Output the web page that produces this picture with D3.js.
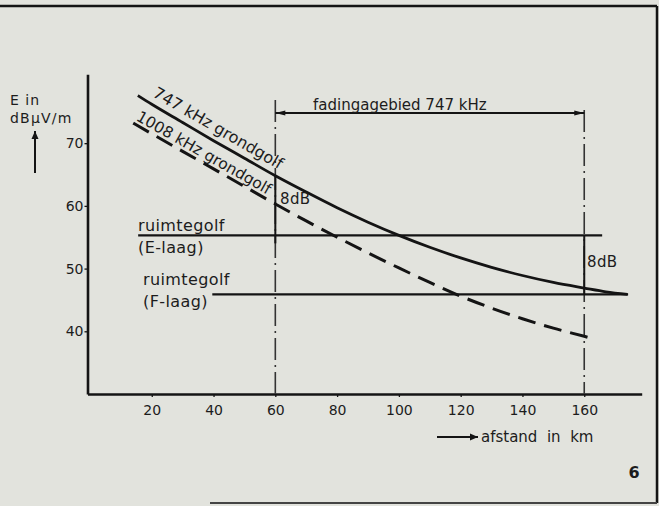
<!DOCTYPE html>
<html>
<head>
<meta charset="utf-8">
<script src="https://cdn.jsdelivr.net/npm/d3@7"></script>
<style>
  html, body { margin: 0; padding: 0; background: #e2e3dd; }
  svg { display: block; }
  text { font-family: "DejaVu Sans", sans-serif; fill: #1c1c1c; }
</style>
</head>
<body>
<svg id="chart" width="659" height="506"></svg>
<script>
// Ground-wave field strength versus distance (km), dB µV/m
const groundKm747   = [15.5, 20, 30, 40, 50, 60, 70, 80, 90, 100, 110, 120, 130, 140, 150, 160, 167, 174];
const ground747     = [77.6, 76.2, 73.3, 70.4, 67.6, 64.8, 62.2, 59.7, 57.4, 55.3, 53.4, 51.7, 50.2, 48.9, 47.8, 46.9, 46.3, 45.9];
const groundKm1008  = [14, 20, 30, 40, 50, 60, 70, 80, 90, 100, 110, 120, 130, 140, 150, 160, 163];
const ground1008    = [73.2, 71.5, 68.7, 65.9, 63.1, 60.3, 57.6, 55.0, 52.5, 50.1, 47.8, 45.6, 43.7, 42.0, 40.5, 39.2, 38.8];

// Sky-wave levels (E-layer and F-layer reflections): [from km, to km, level dB]
const skyE = [15.6, 165.8, 55.3];
const skyF = [39.6, 174.2, 45.9];

// Fading region for 747 kHz
const fadingKm = [60, 160];

const xTicks = [20, 40, 60, 80, 100, 120, 140, 160];
const yTicks = [40, 50, 60, 70];

const svg = d3.select("#chart");
const ink = "#141414";

const x = d3.scaleLinear().domain([-0.8, 178.6]).range([87.5, 641.7]);
const y = d3.scaleLinear().domain([30, 81]).range([394, 74.2]);

// Page frame
svg.append("line").attr("x1", 0).attr("x2", 657).attr("y1", 6).attr("y2", 6)
  .attr("stroke", ink).attr("stroke-width", 2.5);
svg.append("line").attr("x1", 657).attr("x2", 657).attr("y1", 6).attr("y2", 503)
  .attr("stroke", ink).attr("stroke-width", 2.5);
svg.append("line").attr("x1", 210).attr("x2", 657).attr("y1", 503).attr("y2", 503)
  .attr("stroke", "#444").attr("stroke-width", 2);

// Axes
const xAxis = svg.append("g").attr("transform", `translate(0,${y(30)})`)
  .call(d3.axisBottom(x).tickValues(xTicks).tickSizeInner(3).tickSizeOuter(0).tickPadding(8));
const yAxis = svg.append("g").attr("transform", `translate(${x(-0.8)},0)`)
  .call(d3.axisLeft(y).tickValues(yTicks).tickSizeInner(3).tickSizeOuter(0).tickPadding(1));
[xAxis, yAxis].forEach(g => {
  g.select(".domain").attr("stroke", ink).attr("stroke-width", 2.6);
  g.selectAll(".tick line").attr("stroke", ink).attr("stroke-width", 1.3);
  g.selectAll(".tick text").attr("font-size", 14)
    .style("font-family", "'DejaVu Sans', sans-serif").attr("fill", "#1c1c1c");
});

// Vertical dash-dot boundaries of the fading region
fadingKm.forEach((km, i) => {
  svg.append("line")
    .attr("x1", x(km)).attr("x2", x(km))
    .attr("y1", i === 0 ? 100 : 110).attr("y2", y(30))
    .attr("stroke", "#333").attr("stroke-width", 1.6)
    .attr("stroke-dasharray", "22 5 2 5");
});

// Sky-wave horizontal levels
[skyE, skyF].forEach(s => {
  svg.append("line")
    .attr("x1", x(s[0])).attr("x2", x(s[1]))
    .attr("y1", y(s[2])).attr("y2", y(s[2]))
    .attr("stroke", ink).attr("stroke-width", 2.2);
});

// 8 dB brackets
const g747at60 = ground747[groundKm747.indexOf(60)];
svg.append("line").attr("x1", x(60)).attr("x2", x(60))
  .attr("y1", y(g747at60)).attr("y2", y(skyE[2]) + 8)
  .attr("stroke", ink).attr("stroke-width", 2);
svg.append("line").attr("x1", x(160)).attr("x2", x(160))
  .attr("y1", y(skyE[2])).attr("y2", y(skyF[2]))
  .attr("stroke", ink).attr("stroke-width", 2);

// Ground-wave curves
const line = d3.line().x(d => x(d[0])).y(d => y(d[1])).curve(d3.curveMonotoneX);
svg.append("path").datum(d3.zip(groundKm747, ground747))
  .attr("d", line).attr("fill", "none").attr("stroke", ink).attr("stroke-width", 2.8);
svg.append("path").datum(d3.zip(groundKm1008, ground1008))
  .attr("d", line).attr("fill", "none").attr("stroke", ink).attr("stroke-width", 3)
  .attr("stroke-dasharray", "18 9");

// Curve labels, rotated along their curves
function curveLabel(kms, vals, startKm, label, offset, size) {
  const i0 = kms.indexOf(20), i1 = kms.indexOf(60);
  const ang = Math.atan2(y(vals[i1]) - y(vals[i0]), x(kms[i1]) - x(kms[i0])) * 180 / Math.PI;
  const v = d3.scaleLinear().domain(kms).range(vals)(startKm);
  svg.append("text")
    .attr("transform", `translate(${x(startKm)},${y(v)}) rotate(${ang})`)
    .attr("y", -offset).attr("font-size", size).text(label);
}
curveLabel(groundKm747, ground747, 18.9, "747 kHz grondgolf", 7, 16);
curveLabel(groundKm1008, ground1008, 14, "1008 kHz grondgolf", 4, 15.5);

// Fading-region dimension line with arrowheads
const fy = 113;
svg.append("line").attr("x1", x(fadingKm[0])).attr("x2", x(fadingKm[1]))
  .attr("y1", fy).attr("y2", fy).attr("stroke", ink).attr("stroke-width", 2);
[[x(fadingKm[0]), 1], [x(fadingKm[1]), -1]].forEach(([px, dir]) => {
  svg.append("path")
    .attr("d", `M${px},${fy} L${px + dir * 10},${fy - 2.5} L${px + dir * 10},${fy + 2.5} Z`)
    .attr("fill", ink);
});
svg.append("text").attr("x", 313).attr("y", 110).attr("font-size", 15)
  .text("fadingagebied 747 kHz");

// Level labels
const labels = [
  [138, 231, "ruimtegolf", 16, 0.4], [138, 253, "(E-laag)", 16, 0.4],
  [143, 285, "ruimtegolf", 16, 0.4], [143, 307, "(F-laag)", 16, 0.4],
  [280, 204, "8dB", 15, 0.4], [587, 267, "8dB", 15, 0.4],
  [10, 105, "E in", 14, 1], [10, 123, "dBµV/m", 14, 1.2]
];
labels.forEach(([lx, ly, t, fs, ls]) => {
  svg.append("text").attr("x", lx).attr("y", ly).attr("font-size", fs)
    .attr("letter-spacing", ls).text(t);
});

// Axis arrows
function arrow(x1, y1, x2, y2) {
  svg.append("line").attr("x1", x1).attr("y1", y1).attr("x2", x2).attr("y2", y2)
    .attr("stroke", ink).attr("stroke-width", 2);
  const a = Math.atan2(y2 - y1, x2 - x1);
  const L = 8, W = 3.5;
  const bx = x2 - L * Math.cos(a), by = y2 - L * Math.sin(a);
  svg.append("path")
    .attr("d", `M${x2},${y2} L${bx - W * Math.sin(a)},${by + W * Math.cos(a)} L${bx + W * Math.sin(a)},${by - W * Math.cos(a)} Z`)
    .attr("fill", ink);
}
arrow(35, 173, 35, 131);
arrow(437, 437, 478, 437);
svg.append("text").attr("x", 481).attr("y", 442).attr("font-size", 15)
  .attr("xml:space", "preserve").style("white-space", "pre")
  .text("afstand  in  km");

// Figure number
svg.append("text").attr("x", 634).attr("y", 478).attr("font-size", 16)
  .attr("font-weight", "bold").attr("text-anchor", "middle").text("6");
</script>
</body>
</html>
